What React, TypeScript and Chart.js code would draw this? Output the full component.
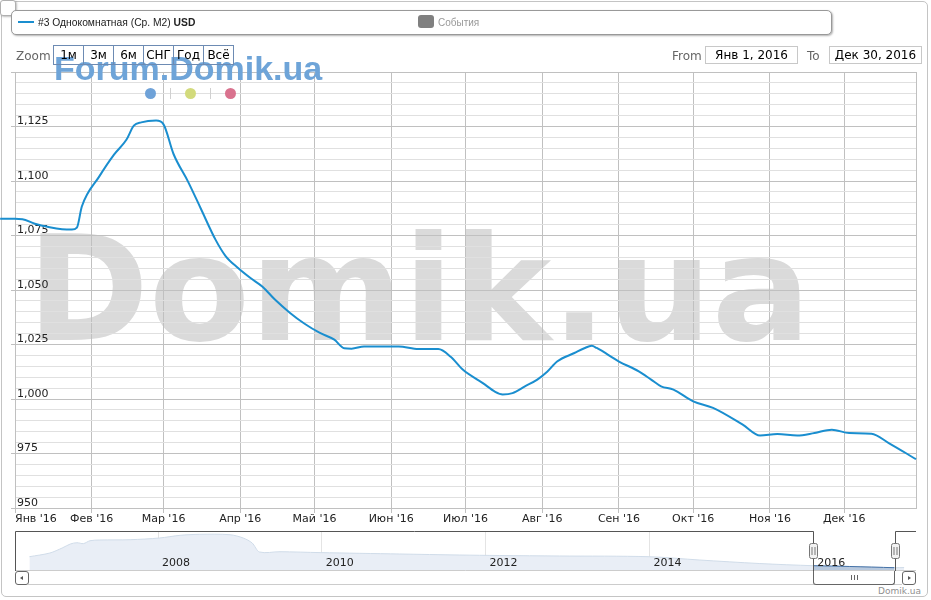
import React, { useEffect, useRef } from "react";
import { Chart, registerables } from "chart.js";

Chart.register(...registerables);
Chart.defaults.font.family = '"DejaVu Sans", sans-serif';

// ---- main chart data (day of year 2016 -> USD per m2) ----
const monthStartDays = [0, 31, 60, 91, 121, 152, 182, 213, 244, 274, 305, 335];
const monthLabels = ["Янв '16", "Фев '16", "Мар '16", "Апр '16", "Май '16", "Июн '16", "Июл '16", "Авг '16", "Сен '16", "Окт '16", "Ноя '16", "Дек '16"];
const lastDay = 364;

const priceDays = [-6, 0, 3, 8, 14, 19, 23, 25, 27, 34, 40, 45, 48, 51, 57, 60, 64, 70, 75, 81, 85, 90, 95, 100, 105, 111, 117, 123, 129, 133, 136, 141, 155, 163, 171, 176, 181, 189, 194, 197, 201, 206, 211, 215, 219, 226, 230, 233, 235, 244, 252, 257, 261, 266, 274, 282, 294, 301, 308, 316, 323, 330, 337, 346, 353, 364];
const priceUsd = [1082.7, 1082.7, 1082.5, 1080.4, 1078.8, 1077.9, 1077.7, 1078.6, 1088.3, 1102, 1112.1, 1118.9, 1125.4, 1126.9, 1127.7, 1126, 1112.5, 1099.5, 1087.5, 1073.1, 1065.7, 1060.2, 1055.6, 1051.5, 1045.6, 1039.6, 1034.5, 1030.4, 1027.2, 1023.3, 1023.1, 1024.1, 1024.1, 1022.9, 1022.9, 1019.4, 1013.4, 1007.3, 1003.3, 1002.1, 1002.7, 1005.8, 1008.9, 1012.5, 1017.2, 1021.1, 1023.3, 1024.4, 1023.4, 1017.2, 1012.7, 1008.9, 1005.8, 1004.3, 998.9, 995.9, 988.2, 983.2, 983.9, 983.2, 984.4, 985.9, 984.4, 984.1, 979.8, 972.4];

const yMin = 950;
const yMax = 1150;
const yMinorStep = 5;
const yLabelValues = [950, 975, 1000, 1025, 1050, 1075, 1100, 1125];

// ---- navigator data (year -> USD per m2) ----
const navYears = [2006.43, 2006.68, 2006.83, 2006.93, 2007.01, 2007.09, 2007.17, 2007.29, 2007.66, 2008.02, 2008.27, 2008.51, 2008.88, 2009.04, 2009.15, 2009.24, 2009.49, 2009.98, 2010.95, 2011.68, 2012.17, 2012.9, 2014.0, 2014.61, 2015.34, 2016.0, 2016.44, 2016.99, 2017.11];
const navValues = [1522, 1735, 2023, 2253, 2327, 2276, 2442, 2483, 2500, 2598, 2753, 2810, 2787, 2598, 2310, 1793, 1810, 1758, 1678, 1620, 1591, 1563, 1522, 1333, 1131, 1005, 960, 890, 900];
const navYearTicks = [2008, 2010, 2012, 2014, 2016];
const navMinYear = 2006.254;
const navMaxYear = 2017.255;
const selectedFrom = 2016;
const selectedTo = 2017;

const zoomButtons = ["1м", "3м", "6м", "СНГ", "Год", "Всё"];

const LINE = "#1a8ecf";

const watermarkPlugin = {
  id: "bigWatermark",
  beforeDraw(chart: any) {
    const ctx = chart.ctx;
    ctx.save();
    ctx.font = 'bold 147px "DejaVu Sans"';
    ctx.fillStyle = "#dadada";
    ctx.textBaseline = "alphabetic";
    ctx.fillText("Domik.ua", 27, 340);
    ctx.restore();
  },
};

const navLabelsPlugin = {
  id: "navLabels",
  afterDatasetsDraw(chart: any) {
    const ctx = chart.ctx;
    const xs = chart.scales.x;
    ctx.save();
    ctx.font = '11px "DejaVu Sans"';
    ctx.fillStyle = "#222";
    ctx.textBaseline = "middle";
    ctx.textAlign = "left";
    for (const t of xs.ticks) {
      ctx.fillText(String(t.value), xs.getPixelForValue(t.value) + 4, 32);
    }
    ctx.restore();
  },
};

const navOutlinePlugin = {
  id: "navOutline",
  afterDraw(chart: any) {
    const ctx = chart.ctx;
    const a = chart.chartArea;
    const xs = chart.scales.x;
    const l = Math.round(xs.getPixelForValue(selectedFrom)) + 0.5;
    const r = Math.round(xs.getPixelForValue(selectedTo)) + 0.5;
    ctx.save();
    ctx.lineWidth = 1;
    ctx.strokeStyle = "#cccccc";
    ctx.beginPath();
    ctx.moveTo(a.left, a.bottom - 0.5);
    ctx.lineTo(a.right, a.bottom - 0.5);
    ctx.stroke();
    ctx.strokeStyle = "#555555";
    ctx.beginPath();
    ctx.moveTo(a.left + 0.5, a.bottom);
    ctx.lineTo(a.left + 0.5, 0.5);
    ctx.lineTo(l, 0.5);
    ctx.lineTo(l, a.bottom);
    ctx.moveTo(r, a.bottom);
    ctx.lineTo(r, 0.5);
    ctx.lineTo(a.right, 0.5);
    ctx.stroke();
    for (const x of [l, r]) {
      ctx.fillStyle = "#f2f2f2";
      ctx.strokeStyle = "#777777";
      ctx.beginPath();
      ctx.roundRect(x - 4, 12.5, 8, 15, 2);
      ctx.fill();
      ctx.stroke();
      ctx.beginPath();
      ctx.moveTo(x - 1.5, 16);
      ctx.lineTo(x - 1.5, 24);
      ctx.moveTo(x + 1.5, 16);
      ctx.lineTo(x + 1.5, 24);
      ctx.stroke();
    }
    ctx.restore();
  },
};

export default function App() {
  const mainRef = useRef<HTMLCanvasElement>(null);
  const navRef = useRef<HTMLCanvasElement>(null);

  useEffect(() => {
    const yGrid: number[] = [];
    for (let v = yMin; v <= yMax; v += yMinorStep) yGrid.push(v);

    const main = new Chart(mainRef.current!, {
      type: "line",
      data: {
        datasets: [
          {
            data: priceDays.map((d, i) => ({ x: d, y: priceUsd[i] })),
            borderColor: LINE,
            borderWidth: 2,
            pointRadius: 0,
            fill: false,
            cubicInterpolationMode: "monotone",
            clip: false as any,
          },
        ],
      },
      options: {
        animation: false,
        responsive: false,
        events: [],
        layout: { padding: { top: 72, right: 15, left: 0, bottom: 0 } },
        plugins: { legend: { display: false }, tooltip: { enabled: false } },
        scales: {
          x: {
            type: "linear",
            min: 0,
            max: lastDay,
            afterBuildTicks: (s: any) => {
              s.ticks = [...monthStartDays, lastDay].map((v) => ({ value: v }));
            },
            afterFit: (s: any) => {
              s.height = 22;
              s.paddingLeft = 0;
              s.paddingRight = 0;
            },
            ticks: {
              autoSkip: false,
              maxRotation: 0,
              align: "inner",
              padding: 0,
              color: "#222",
              font: { size: 11 },
              callback: (_v: any, i: number) => (i < monthLabels.length ? monthLabels[i] : ""),
            },
            grid: {
              color: "#c0c0c0",
              tickLength: 5,
              tickColor: (c: any) => (c.index < monthLabels.length ? "#c0c0c0" : "rgba(0,0,0,0)"),
            },
            border: { color: "#c0c0c0" },
          },
          y: {
            min: yMin,
            max: yMax,
            afterBuildTicks: (s: any) => {
              s.ticks = yGrid.map((v) => ({ value: v }));
            },
            afterFit: (s: any) => {
              s.width = 15;
            },
            ticks: {
              mirror: true,
              padding: 2,
              labelOffset: -5,
              autoSkip: false,
              color: "#222",
              font: { size: 11 },
              callback: (v: any) => (yLabelValues.includes(v) ? Number(v).toLocaleString("en-US") : ""),
            },
            grid: {
              color: (c: any) => (c.tick && c.tick.value % 25 === 0 ? "#c0c0c0" : "#e0e0e0"),
              tickLength: 4,
              tickColor: (c: any) => (c.tick && c.tick.value % 25 === 0 ? "#c0c0c0" : "rgba(0,0,0,0)"),
            },
            border: { color: "#c0c0c0" },
          },
        },
      } as any,
      plugins: [watermarkPlugin],
    });

    const navAll = navYears.map((y, i) => ({ x: y, y: navValues[i] }));
    const navSel = navAll.filter((p) => p.x >= selectedFrom && p.x <= selectedTo);

    const nav = new Chart(navRef.current!, {
      type: "line",
      data: {
        datasets: [
          {
            data: navSel,
            borderColor: "#4572a7",
            backgroundColor: "#b8c9de",
            borderWidth: 1,
            pointRadius: 0,
            fill: "start",
            tension: 0.3,
          },
          {
            data: navAll,
            borderColor: "#d0dce9",
            backgroundColor: "#e9eef6",
            borderWidth: 1,
            pointRadius: 0,
            fill: "start",
            tension: 0.3,
          },
        ],
      },
      options: {
        animation: false,
        responsive: false,
        events: [],
        layout: { padding: { top: 0, right: 15, left: 15, bottom: 0 } },
        plugins: { legend: { display: false }, tooltip: { enabled: false } },
        scales: {
          x: {
            type: "linear",
            min: navMinYear,
            max: navMaxYear,
            z: 1,
            afterBuildTicks: (s: any) => {
              s.ticks = navYearTicks.map((v) => ({ value: v }));
            },
            afterFit: (s: any) => {
              s.height = 0;
              s.paddingLeft = 0;
              s.paddingRight = 0;
            },
            grid: { color: "#e4e4e4", drawTicks: false },
            border: { display: false },
            ticks: { display: false, autoSkip: false, maxRotation: 0 },
          },
          y: { display: false, min: 700, max: 3000 },
        },
      } as any,
      plugins: [navLabelsPlugin, navOutlinePlugin],
    });

    return () => {
      main.destroy();
      nav.destroy();
    };
  }, []);

  const abs = (o: React.CSSProperties): React.CSSProperties => ({ position: "absolute", ...o });

  return (
    <div
      style={{
        position: "absolute",
        left: 0,
        top: 0,
        width: 931,
        height: 600,
        background: "#fff",
        overflow: "hidden",
        fontFamily: '"DejaVu Sans", sans-serif',
      }}
    >
      <div style={abs({ left: 1, top: 1, width: 927, height: 596, border: "1px solid #c4c4c4", borderRadius: 5, boxSizing: "border-box" })} />
      <canvas ref={mainRef} width={931} height={530} style={abs({ left: 0, top: 0 })} />
      <canvas ref={navRef} width={931} height={40} style={abs({ left: 0, top: 531 })} />

      {/* small corner box */}
      <div style={abs({ left: 0, top: 0, width: 16, height: 16, background: "#fff", border: "1px solid #b0b0b0", borderRadius: 3, boxSizing: "border-box", boxShadow: "1px 1px 2px rgba(0,0,0,0.25)" })} />

      {/* legend */}
      <div style={abs({ left: 11, top: 10, width: 821, height: 25, border: "1px solid #999", borderRadius: 5, boxSizing: "border-box", background: "#fff", boxShadow: "1px 1px 2px rgba(0,0,0,0.3)" })} />
      <div style={abs({ left: 18, top: 21, width: 16, height: 2, background: LINE })} />
      <div style={abs({ left: 38, top: 16, height: 14, lineHeight: "14px", fontSize: 10.3, fontFamily: '"Liberation Sans", Arial, sans-serif', color: "#222", whiteSpace: "nowrap" })}>
        #3 Однокомнатная (Ср. М2) <b>USD</b>
      </div>
      <div style={abs({ left: 418, top: 15, width: 16, height: 13, background: "#808080", borderRadius: 3 })} />
      <div style={abs({ left: 438, top: 16, height: 14, lineHeight: "14px", fontSize: 10, fontFamily: '"Liberation Sans", Arial, sans-serif', color: "#999", whiteSpace: "nowrap" })}>
        События
      </div>

      {/* watermark above plot */}
      <div style={abs({ left: 54, top: 52, fontSize: 34, lineHeight: "33px", fontWeight: "bold", fontFamily: '"Liberation Sans", Arial, sans-serif', color: "#6ea4d8", whiteSpace: "nowrap" })}>
        Forum.Domik.ua
      </div>

      {/* zoom row */}
      <div style={abs({ left: 16, top: 47, height: 18, lineHeight: "18px", fontSize: 12, color: "#666" })}>Zoom</div>
      {zoomButtons.map((b, i) => (
        <div
          key={b}
          style={abs({ left: 53 + i * 30, top: 45, width: 31, height: 20, border: "1px solid #6d8bb3", boxSizing: "border-box", textAlign: "center", lineHeight: "18px", fontSize: 12, color: "#000" })}
        >
          {b}
        </div>
      ))}
      <div style={abs({ left: 672, top: 47, height: 18, lineHeight: "18px", fontSize: 12, color: "#666" })}>From</div>
      <div style={abs({ left: 705, top: 46, width: 93, height: 18, border: "1px solid #c8c8c8", boxSizing: "border-box", textAlign: "center", lineHeight: "16px", fontSize: 12, color: "#000" })}>
        Янв 1, 2016
      </div>
      <div style={abs({ left: 807, top: 47, height: 18, lineHeight: "18px", fontSize: 12, color: "#666" })}>To</div>
      <div style={abs({ left: 829, top: 46, width: 93, height: 18, border: "1px solid #c8c8c8", boxSizing: "border-box", textAlign: "center", lineHeight: "16px", fontSize: 12, color: "#000" })}>
        Дек 30, 2016
      </div>

      {/* dots */}
      <div style={abs({ left: 144.5, top: 88, width: 11, height: 11, borderRadius: "50%", background: "#6fa2d8" })} />
      <div style={abs({ left: 170, top: 88, width: 1, height: 11, background: "#d0d0d0" })} />
      <div style={abs({ left: 184.5, top: 88, width: 11, height: 11, borderRadius: "50%", background: "#d2da7c" })} />
      <div style={abs({ left: 210, top: 88, width: 1, height: 11, background: "#d0d0d0" })} />
      <div style={abs({ left: 225, top: 88, width: 11, height: 11, borderRadius: "50%", background: "#d9728e" })} />

      {/* scrollbar */}
      <div style={abs({ left: 28, top: 584, width: 874, height: 1, background: "#cccccc" })} />
      <div style={abs({ left: 15, top: 571, width: 14, height: 14, border: "1px solid #666", borderRadius: 3, boxSizing: "border-box", background: "#fff" })}>
        <div style={abs({ left: 4, top: 4, width: 0, height: 0, borderTop: "2.5px solid transparent", borderBottom: "2.5px solid transparent", borderRight: "3px solid #555" })} />
      </div>
      <div style={abs({ left: 813, top: 571, width: 82, height: 14, border: "1px solid #666", borderTop: "none", borderRadius: "0 0 3px 3px", boxSizing: "border-box", background: "#fff" })}>
        <div style={abs({ left: 37, top: 4, width: 1, height: 5, background: "#666" })} />
        <div style={abs({ left: 40, top: 4, width: 1, height: 5, background: "#666" })} />
        <div style={abs({ left: 43, top: 4, width: 1, height: 5, background: "#666" })} />
      </div>
      <div style={abs({ left: 902, top: 571, width: 14, height: 14, border: "1px solid #666", borderRadius: 3, boxSizing: "border-box", background: "#fff" })}>
        <div style={abs({ left: 5, top: 4, width: 0, height: 0, borderTop: "2.5px solid transparent", borderBottom: "2.5px solid transparent", borderLeft: "3px solid #555" })} />
      </div>

      {/* credits */}
      <div style={abs({ left: 870, top: 585, width: 51, textAlign: "right", height: 12, lineHeight: "12px", fontSize: 9, color: "#909090" })}>Domik.ua</div>
    </div>
  );
}
